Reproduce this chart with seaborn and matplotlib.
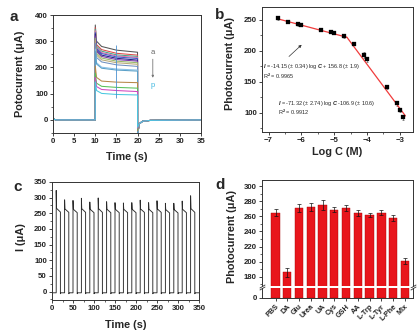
import numpy as np
import pandas as pd
import matplotlib
matplotlib.use("Agg")
import matplotlib.pyplot as plt
import seaborn as sns
from matplotlib.ticker import MultipleLocator

sns.set_style("ticks")
plt.rcParams['font.family'] = ['Liberation Sans', 'DejaVu Sans']
plt.rcParams['font.weight'] = 'bold'
plt.rcParams['mathtext.fontset'] = 'custom'
plt.rcParams['mathtext.rm'] = 'Liberation Sans'
plt.rcParams['mathtext.it'] = 'Liberation Sans:italic'
plt.rcParams['mathtext.bf'] = 'Liberation Sans:bold'

# ---------------- panel a data ----------------
curve_labels = list("abcdefghijklmnop")
a_colors = ['#555555', '#e04848', '#40a888', '#e070a8', '#4058c8', '#242488',
            '#7a38a8', '#98b868', '#b8a878', '#7090c0', '#88c0e8', '#5aa0c8',
            '#b88848', '#58c058', '#d048c0', '#48c8e0']
start_t = [0.0, 0.25, 0.8, 9.99]
start_y = [8, 2, 0, 0]
a_peak = [362, 352, 346, 340, 333, 328, 320, 312, 303, 292, 270, 262, 205, 178, 162, 145]
a_10_3 = [300, 287, 281, 276, 272, 266, 261, 254, 247, 238, 218, 213, 162, 140, 127, 112]
a_11_5 = [280, 268, 262, 257, 253, 247, 242, 236, 229, 221, 201, 197, 148, 128, 116, 101]
a_15 = [266, 254, 248, 244, 240, 235, 230, 224, 218, 210, 194, 190, 144, 124, 112, 97]
a_20 = [258, 247, 242, 238, 234, 228, 224, 218, 212, 204, 190, 186, 142, 121, 108, 95]
a_dip = [-62, -62, -60, -60, -58, -58, -56, -56, -55, -55, -52, -50, -42, -36, -32, -28]
recovery_t = [20.4, 21.2, 23.0, 35.0]
recovery_y = [-15, -5, -2, 0]
cursor_t = 15
cursor_range = [85, 285]

# ---------------- panel b data ----------------
logc = [-6.70, -6.40, -6.10, -6.00, -5.40, -5.10, -5.00, -4.70, -4.40, -4.10, -4.00,
        -3.40, -3.10, -3.00, -2.90]
b_current = [252.5, 247, 243.5, 242.5, 233.5, 230.5, 229, 223.5, 211.5, 193.5, 186.5,
             141, 115.5, 105, 92.5]
b_err = [2, 2, 2.5, 2, 2, 2, 2, 2.5, 2.5, 5, 4, 3, 4, 3, 4]
fit1_slope, fit1_int, fit1_x = -14.15, 156.8, [-6.72, -4.613]
fit2_slope, fit2_int, fit2_x = -71.32, -106.9, [-4.613, -2.83]

# ---------------- panel c data ----------------
c_on = [10, 30, 50, 70, 90, 110, 130, 150, 170, 190, 210, 230, 250, 270, 290, 310, 330]
light_duration = 10
c_peak = [323, 293, 291, 298, 286, 299, 287, 284, 283, 284, 292, 284, 290, 282, 282, 289, 306]
c_start = [266, 264, 263, 265, 263, 265, 263, 263, 263, 263, 264, 263, 264, 262, 262, 263, 265]
c_end = [254, 253, 252, 253, 252, 253, 252, 252, 252, 252, 253, 252, 253, 251, 251, 252, 253]
c_base = -4
c_dip = -7
c_tmax = 350

# ---------------- panel d data ----------------
d_labels = ['PBS', 'DA', 'Glu', 'Urea', 'UA', 'Cys', 'GSH', 'AA', 'L-Trp', 'L-Tyr', 'L-Phe', 'Mix']
d_values = [265, 186, 271, 272, 275, 269, 271, 264, 262, 265, 258, 201]
d_err = [5, 6, 5, 5, 6, 3.5, 4, 4, 3, 3.5, 3.5, 3.5]

# ---------------- figure ----------------
W, H = 420, 334
fig = plt.figure(figsize=(W / 100, H / 100), dpi=100)


def px_axes(l, t, r, b):
    return fig.add_axes([l / W, 1 - b / H, (r - l) / W, (b - t) / H])


def style(ax):
    for s in ax.spines.values():
        s.set_linewidth(0.7)
        s.set_color('#333333')
    ax.tick_params(which='major', direction='out', length=2.5, width=0.6, pad=1.2,
                   labelsize=5.6, colors='#222222')
    ax.tick_params(which='minor', direction='out', length=1.4, width=0.5, colors='#222222')
    ax.set_facecolor('white')


LABEL_FS = 7.8

# ----- panel a -----
axa = px_axes(53, 15, 201, 133)
rows = []
for i, lab in enumerate(curve_labels):
    ts = start_t + [10.0, 10.3, 11.5, 15.0, 19.99, 20.0] + recovery_t
    ys = start_y + [a_peak[i], a_10_3[i], a_11_5[i], a_15[i], a_20[i], a_dip[i]] + recovery_y
    for t, y in zip(ts, ys):
        rows.append((lab, t, y))
dfa = pd.DataFrame(rows, columns=['curve', 't', 'I'])
sns.lineplot(data=dfa, x='t', y='I', hue='curve', hue_order=curve_labels,
             palette=a_colors, estimator=None, sort=False, legend=False,
             lw=0.75, ax=axa)
axa.vlines(cursor_t, cursor_range[0], cursor_range[1], color='#4a90d0', lw=0.6)
axa.set_xlim(0, 35)
axa.set_ylim(-50, 400)
axa.xaxis.set_major_locator(MultipleLocator(5))
axa.yaxis.set_major_locator(MultipleLocator(100))
axa.yaxis.set_minor_locator(MultipleLocator(50))
axa.set_xlabel('Time (s)', fontsize=LABEL_FS, fontweight='bold')
axa.set_ylabel('Potocurrent (μA)', fontsize=LABEL_FS, fontweight='bold')
axa.xaxis.set_label_coords(0.5, -0.16)
axa.yaxis.set_label_coords(-0.19, 0.5)
axa.text(23.6, 256, 'a', fontsize=5.5, fontweight='normal', color='#666666', ha='center', va='center')
axa.text(23.6, 130, 'p', fontsize=5.5, fontweight='normal', color='#40b8e0', ha='center', va='center')
axa.annotate('', xy=(23.6, 150), xytext=(23.6, 242),
             arrowprops=dict(arrowstyle='-|>', lw=0.6, color='#777777', mutation_scale=3))
style(axa)

# ----- panel b -----
axb = px_axes(262, 7, 413, 132)
axb.errorbar(logc, b_current, yerr=b_err, fmt='none', ecolor='#666666',
             elinewidth=0.5, capsize=1, capthick=0.5, zorder=2)
for xs, sl, ic in [(fit1_x, fit1_slope, fit1_int), (fit2_x, fit2_slope, fit2_int)]:
    xs = np.array(xs)
    sns.lineplot(x=xs, y=sl * xs + ic, color='#f03c3c', lw=0.9, ax=axb, zorder=3)
sns.scatterplot(x=logc, y=b_current, marker='s', s=7, color='black',
                edgecolor='black', linewidth=0.2, ax=axb, zorder=4)
axb.set_xlim(-7.2, -2.6)
axb.set_ylim(69, 271)
axb.xaxis.set_major_locator(MultipleLocator(1))
axb.xaxis.set_minor_locator(MultipleLocator(0.5))
axb.yaxis.set_major_locator(MultipleLocator(50))
axb.yaxis.set_minor_locator(MultipleLocator(25))
axb.annotate('', xy=(-5.93, 213), xytext=(-6.44, 188),
             arrowprops=dict(arrowstyle='-|>', lw=0.5, color='#333333', mutation_scale=4))
axb.text(-7.17, 175, r'$I$ = -14.15 (± 0.34) log $C$ + 156.8 (± 1.9)',
         fontsize=4, fontweight='normal', va='center', ha='left')
axb.text(-7.17, 159.5, r'R$^2$ = 0.9965', fontsize=4, fontweight='normal', va='center', ha='left')
axb.text(-6.70, 115, r'$I$ = -71.32 (± 2.74) log $C$ -106.9 (± 10.6)',
         fontsize=4, fontweight='normal', va='center', ha='left')
axb.text(-6.70, 100, r'R$^2$ = 0.9912', fontsize=4, fontweight='normal', va='center', ha='left')
axb.set_xlabel('Log C (M)', fontsize=LABEL_FS, fontweight='bold')
axb.set_ylabel('Photocurrent (μA)', fontsize=LABEL_FS, fontweight='bold')
axb.xaxis.set_label_coords(0.5, -0.12)
axb.yaxis.set_label_coords(-0.18, 0.55)
style(axb)

# ----- panel c -----
axc = px_axes(52, 182, 199, 300)
ts, ys = [0.0], [c_base]
for i, on in enumerate(c_on):
    off = on + light_duration
    ts += [on, on, on + 0.8, off, off, off + 1.5]
    ys += [c_base, c_peak[i], c_start[i], c_end[i], c_dip, c_base]
ts.append(c_tmax)
ys.append(c_base)
sns.lineplot(x=ts, y=ys, estimator=None, sort=False, color='#2a2a2a', lw=0.65, ax=axc)
axc.set_xlim(0, 350)
axc.set_ylim(-27, 350)
axc.xaxis.set_major_locator(MultipleLocator(50))
axc.xaxis.set_minor_locator(MultipleLocator(25))
axc.yaxis.set_major_locator(MultipleLocator(50))
axc.yaxis.set_minor_locator(MultipleLocator(25))
axc.set_xlabel('Time (s)', fontsize=LABEL_FS, fontweight='bold')
axc.set_ylabel('I (μA)', fontsize=LABEL_FS, fontweight='bold')
axc.xaxis.set_label_coords(0.5, -0.167)
axc.yaxis.set_label_coords(-0.177, 0.53)
style(axc)

# ----- panel d (broken axis) -----
axd = px_axes(262, 180, 413, 286)
axd2 = px_axes(262, 288, 413, 298)
xpos = np.arange(len(d_labels))
for ax in (axd, axd2):
    sns.barplot(x=d_labels, y=d_values, color='#e8161c', saturation=1, width=0.72,
                edgecolor='#a80000', linewidth=0.3, ax=ax)
    ax.set_xlim(-1.15, 11.7)
    style(ax)
axd.errorbar(xpos, d_values, yerr=d_err, fmt='none', ecolor='#111111',
             elinewidth=0.5, capsize=1.5, capthick=0.5, zorder=5)
axd.set_ylim(168, 308)
axd.yaxis.set_major_locator(MultipleLocator(20))
axd.yaxis.set_minor_locator(MultipleLocator(10))
axd.spines['bottom'].set_visible(False)
axd.tick_params(axis='x', which='both', bottom=False, labelbottom=False)
axd.set_xlabel('')
axd.set_ylabel('Photocurrent (μA)', fontsize=LABEL_FS, fontweight='bold')
axd.yaxis.set_label_coords(-0.166, 0.47)
axd2.set_ylim(0, 10)
axd2.set_yticks([0])
axd2.spines['top'].set_visible(False)
axd2.set_xlabel('')
axd2.set_ylabel('')
axd2.set_xticks(xpos)
axd2.set_xticklabels(d_labels, rotation=45, ha='right', rotation_mode='anchor', fontsize=5.2)
kw = dict(marker=[(-1, -0.6), (1, 0.6)], markersize=4, linestyle='none',
          color='#333333', mec='#333333', mew=0.6, clip_on=False)
axd.plot([0, 1], [0, 0], transform=axd.transAxes, **kw)
axd2.plot([0, 1], [1, 1], transform=axd2.transAxes, **kw)

# panel letters
for letter, (px, py) in {'a': (14, 17), 'b': (220, 15), 'c': (18, 187), 'd': (220, 185)}.items():
    fig.text(px / W, 1 - py / H, letter, fontsize=11, fontweight='bold', ha='center', va='center')

fig.savefig('out.png', dpi=100)
